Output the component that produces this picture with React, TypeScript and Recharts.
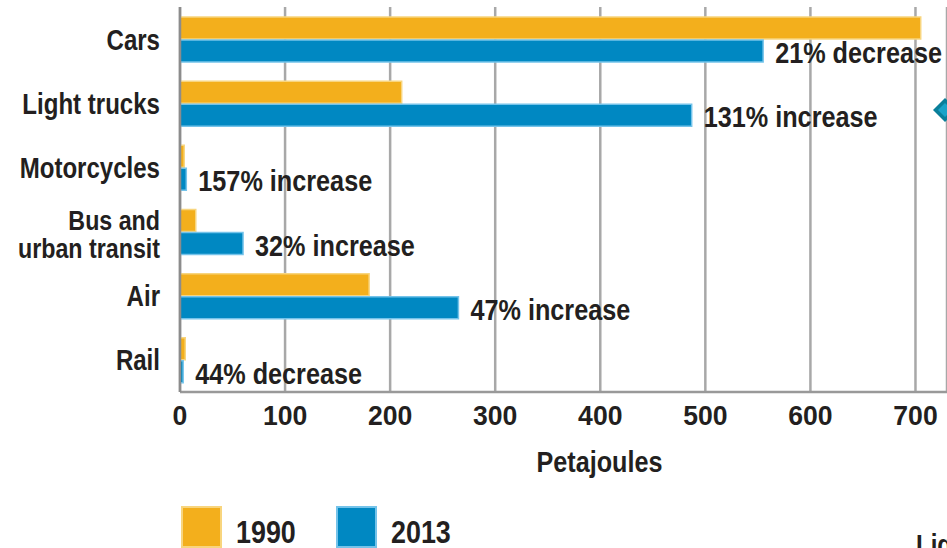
import React from 'react';
import { BarChart, Bar, XAxis, YAxis, CartesianGrid, LabelList, Legend, Customized } from 'recharts';

const categories = ['Cars', 'Light trucks', 'Motorcycles', 'Bus and\nurban transit', 'Air', 'Rail'];
const values1990 = [705, 211, 4, 15, 180, 5];
const values2013 = [555, 487, 6, 60, 265, 3];
const changeLabels = ['21% decrease', '131% increase', '157% increase', '32% increase', '47% increase', '44% decrease'];
const xTicks = [0, 100, 200, 300, 400, 500, 600, 700];
const seriesNames = ['1990', '2013'];
const xTitle = 'Petajoules';

const FONT = "'Liberation Sans', Arial, Helvetica, sans-serif";
const INK = '#231F20';
const YELLOW = '#F3AF1C';
const YELLOW_EDGE = '#F8D57E';
const BLUE = '#0088C2';
const BLUE_EDGE = '#74C3EA';

const data = categories.map((c, i) => ({
  category: c,
  v1990: values1990[i],
  v2013: values2013[i],
  change: changeLabels[i],
}));

const NarrowText = ({ x, y, anchor = 'start', fs, sx, children }: any) => (
  <text
    transform={`translate(${x},${y}) scale(${sx},1)`}
    x={0}
    y={0}
    textAnchor={anchor}
    fill={INK}
    fontFamily={FONT}
    fontWeight="bold"
    fontSize={fs}
  >
    {children}
  </text>
);

const CategoryTick = (props: any) => {
  const { x, y, payload } = props;
  const lines = String(payload.value).split('\n');
  const fs = 29;
  const lh = 28;
  const shift = lines.length > 1 ? 2 : 0;
  return (
    <g>
      {lines.map((ln: string, i: number) => (
        <NarrowText
          key={i}
          x={x}
          y={y + shift + (i - (lines.length - 1) / 2) * lh + fs * 0.36}
          anchor="end"
          fs={lines.length > 1 ? 28 : fs}
          sx={0.83}
        >
          {ln}
        </NarrowText>
      ))}
    </g>
  );
};

const ValueTick = (props: any) => {
  const { x, y, payload } = props;
  return (
    <NarrowText x={x} y={y + 20} anchor="middle" fs={28} sx={0.95}>
      {payload.value}
    </NarrowText>
  );
};

const ChangeLabel = (props: any) => {
  const { x, y, width, height, value } = props;
  return (
    <NarrowText x={x + width + 12} y={y + height / 2 + 12} anchor="start" fs={29} sx={0.87}>
      {value}
    </NarrowText>
  );
};

const AxisTitle = (props: any) => {
  const { viewBox } = props;
  const vb = viewBox || { x: 0, y: 0, width: 0, height: 0 };
  return (
    <NarrowText x={vb.x + vb.width / 2 + 36} y={vb.y + 80} anchor="middle" fs={30} sx={0.84}>
      {xTitle}
    </NarrowText>
  );
};

const LegendContent = (props: any) => {
  const { payload } = props;
  return (
    <div style={{ display: 'flex', flexDirection: 'row' }}>
      {(payload || []).map((item: any, i: number) => (
        <div key={i} style={{ display: 'flex', alignItems: 'center', width: 155 }}>
          <div
            style={{
              width: 37,
              height: 38,
              background: item.color,
              border: `2px solid ${i === 0 ? YELLOW_EDGE : BLUE_EDGE}`,
              flex: 'none',
            }}
          />
          <span
            style={{
              marginLeft: 14,
              fontFamily: FONT,
              fontWeight: 'bold',
              fontSize: 32,
              color: INK,
              position: 'relative',
              top: 5,
              display: 'inline-block',
              transform: 'scaleX(0.84)',
              transformOrigin: 'left center',
            }}
          >
            {item.value}
          </span>
        </div>
      ))}
    </div>
  );
};

const Decorations = () => (
  <g>
    <polygon points="933,110 945,98 957,110 945,122" fill="#0A7F9A" />
    <polygon points="938,110 945,103 952,110 945,117" fill="#1AA3C9" />
    <NarrowText x={916} y={555} fs={29} sx={0.83}>
      Light trucks
    </NarrowText>
  </g>
);

export default function App() {
  return (
    <div style={{ position: 'absolute', left: 0, top: 0, width: 947, height: 548, background: '#fff', overflow: 'hidden' }}>
      <BarChart
        width={947}
        height={548}
        data={data}
        layout="vertical"
        margin={{ top: 7, right: 0, bottom: 126, left: 0 }}
        barGap={1}
        barCategoryGap={9}
      >
        <CartesianGrid horizontal={false} vertical stroke="#A8A8A8" strokeWidth={2.5} />
        <XAxis
          type="number"
          domain={[0, 730]}
          ticks={xTicks}
          allowDataOverflow
          tickLine={false}
          tickSize={0}
          tickMargin={13}
          axisLine={{ stroke: '#999999', strokeWidth: 2.5 }}
          tick={<ValueTick />}
          height={30}
          label={<AxisTitle />}
        />
        <YAxis
          type="category"
          dataKey="category"
          width={180}
          tickLine={false}
          tickSize={0}
          tickMargin={20}
          axisLine={{ stroke: '#8C8C8C', strokeWidth: 2.5 }}
          tick={<CategoryTick />}
          interval={0}
        />
        <Legend
          layout="vertical"
          align="center"
          verticalAlign="middle"
          content={<LegendContent />}
          wrapperStyle={{ position: 'absolute', left: 181, top: 506, width: 400, height: 42 }}
        />
        <Bar dataKey="v1990" name={seriesNames[0]} fill={YELLOW} stroke={YELLOW_EDGE} strokeWidth={1.5} barSize={22} isAnimationActive={false} />
        <Bar dataKey="v2013" name={seriesNames[1]} fill={BLUE} stroke={BLUE_EDGE} strokeWidth={1.5} barSize={22} isAnimationActive={false}>
          <LabelList dataKey="change" content={<ChangeLabel />} />
        </Bar>
        <Customized component={Decorations} />
      </BarChart>
    </div>
  );
}
